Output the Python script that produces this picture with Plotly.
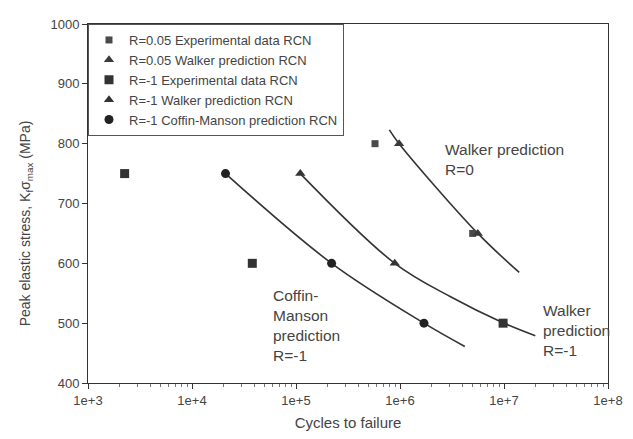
import plotly.graph_objects as go

# ---- data ----
r005_exp_x = [5.75e5, 5.0e6]
r005_exp_y = [800, 650]
r005_walker_x = [9.8e5, 5.6e6]
r005_walker_y = [800, 650]
rm1_exp_x = [2.25e3, 3.8e4, 9.8e6]
rm1_exp_y = [750, 600, 500]
rm1_walker_x = [1.1e5, 8.9e5, 1.0e7]
rm1_walker_y = [750, 600, 500]
rm1_cm_x = [2.1e4, 2.2e5, 1.7e6]
rm1_cm_y = [750, 600, 500]

curve_walker_r0_x = [7.9e5, 9.8e5, 5.6e6, 1.4e7]
curve_walker_r0_y = [823, 800, 650, 585]
curve_walker_rm1_x = [1.1e5, 8.9e5, 3.0e6, 1.0e7, 2.0e7]
curve_walker_rm1_y = [750, 600, 545, 500, 479]
curve_cm_x = [2.1e4, 2.2e5, 1.7e6, 4.2e6]
curve_cm_y = [750, 600, 500, 461]

x_tickvals = [1e3, 1e4, 1e5, 1e6, 1e7, 1e8]
x_ticktext = ["1e+3", "1e+4", "1e+5", "1e+6", "1e+7", "1e+8"]

DARK = "#333333"
TXT = "#444444"

fig = go.Figure()

for cx, cy in [(curve_walker_r0_x, curve_walker_r0_y),
               (curve_walker_rm1_x, curve_walker_rm1_y),
               (curve_cm_x, curve_cm_y)]:
    fig.add_trace(go.Scatter(x=cx, y=cy, mode="lines", showlegend=False,
                             line=dict(color=DARK, width=1.6, shape="spline", smoothing=1.0),
                             hoverinfo="skip"))

fig.add_trace(go.Scatter(x=r005_exp_x, y=r005_exp_y, mode="markers",
                         name="R=0.05 Experimental data RCN",
                         marker=dict(symbol="square", size=7, color="#4a4a4a")))
fig.add_trace(go.Scatter(x=r005_walker_x, y=r005_walker_y, mode="markers",
                         name="R=0.05 Walker prediction RCN",
                         marker=dict(symbol="triangle-up", size=9, color="#3a3a3a")))
fig.add_trace(go.Scatter(x=rm1_exp_x, y=rm1_exp_y, mode="markers",
                         name="R=-1 Experimental data RCN",
                         marker=dict(symbol="square", size=9, color=DARK)))
fig.add_trace(go.Scatter(x=rm1_walker_x, y=rm1_walker_y, mode="markers",
                         name="R=-1 Walker prediction RCN",
                         marker=dict(symbol="triangle-up", size=9, color=DARK)))
fig.add_trace(go.Scatter(x=rm1_cm_x, y=rm1_cm_y, mode="markers",
                         name="R=-1 Coffin-Manson prediction RCN",
                         marker=dict(symbol="circle", size=9, color="#222222")))

fig.update_layout(
    width=625, height=431,
    margin=dict(l=80, r=25, t=9, b=56),
    paper_bgcolor="white", plot_bgcolor="white",
    font=dict(family="Liberation Sans, Arial, sans-serif", size=13, color=TXT),
    showlegend=True,
    legend=dict(x=0, y=1, xanchor="left", yanchor="top",
                bgcolor="white", bordercolor="#555555", borderwidth=1,
                font=dict(size=13, color=TXT), tracegroupgap=0),
    xaxis=dict(type="log", range=[3, 8], tickvals=x_tickvals, ticktext=x_ticktext,
               showgrid=False, zeroline=False, showline=True, linecolor="#333333",
               linewidth=1, mirror=True, ticks="outside", ticklen=5,
               tickcolor="#333333",
               minor=dict(ticks="outside", ticklen=3, tickcolor="#777777", dtick="D1", showgrid=False),
               tickfont=dict(size=13, color=TXT),
               title=dict(text="Cycles to failure", font=dict(size=15, color=TXT), standoff=10)),
    yaxis=dict(range=[400, 1000], dtick=100, showgrid=False, zeroline=False,
               showline=True, linecolor="#333333", linewidth=1, mirror=True,
               ticks="outside", ticklen=5, tickcolor="#333333",
               tickfont=dict(size=13, color=TXT)),
    annotations=[
        dict(text="Peak elastic stress, K<sub>f</sub>σ<sub>max</sub> (MPa)",
             xref="paper", yref="paper", x=-0.119, y=0.445, textangle=-90,
             showarrow=False, font=dict(size=14, color=TXT), xanchor="center", yanchor="middle"),
        dict(text="Walker prediction<br>R=0", xref="x", yref="y", x=6.41, y=808,
             xanchor="left", yanchor="top", align="left", showarrow=False,
             font=dict(size=15.5, color=TXT)),
        dict(text="Coffin-<br>Manson<br>prediction<br>R=-1", xref="x", yref="y", x=4.76, y=563,
             xanchor="left", yanchor="top", align="left", showarrow=False,
             font=dict(size=15.5, color=TXT)),
        dict(text="Walker<br>prediction<br>R=-1", xref="x", yref="y", x=7.36, y=538,
             xanchor="left", yanchor="top", align="left", showarrow=False,
             font=dict(size=15.5, color=TXT)),
    ],
)

fig.write_html("out.html")
